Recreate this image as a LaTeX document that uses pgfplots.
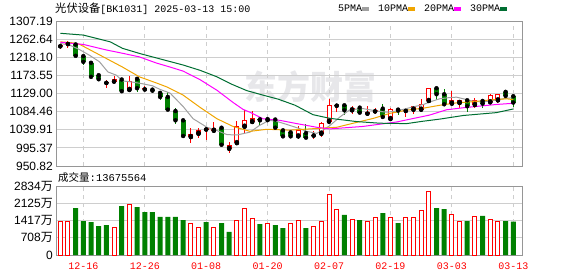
\documentclass[border=0pt]{standalone}
\usepackage{pgfplots}
\pgfplotsset{compat=1.18}
\usepackage{pgfplotstable}
\usepackage{fontspec}
\setmainfont{Liberation Sans}
\newfontfamily\cjk{Noto Sans CJK SC}
\newfontfamily\mono{Liberation Mono}
\definecolor{kred}{RGB}{255,0,0}
\definecolor{kgreen}{RGB}{0,128,0}
\definecolor{ma5}{RGB}{160,160,160}
\definecolor{ma10}{RGB}{240,165,0}
\definecolor{ma20}{RGB}{255,0,255}
\definecolor{ma30}{RGB}{0,110,50}
\definecolor{gridc}{RGB}{206,206,206}
\definecolor{framec}{RGB}{150,150,150}
\definecolor{wmark}{RGB}{231,231,234}

\pgfplotstableread{
i o h l c
0 1245 1254 1238 1247.5
1 1250.5 1257 1239.8 1253.8
6 1155 1161.7 1142.8 1157.5
7 1158.4 1171.6 1158 1164
9 1137.9 1171.6 1137 1160.9
11 1139 1147 1135 1141.5
17 1022 1043.4 1007.2 1030.2
18 1030.2 1043.4 1020.4 1040
19 1040.5 1046.6 1015.5 1043
20 1037.6 1059.8 1037 1044.9
22 993.2 1008.8 982.6 1001.4
23 1007.2 1061.4 1003 1048.3
24 1047.5 1087.8 1030.2 1063.1
25 1059 1086 1055 1069.6
31 1023.7 1048.3 1017 1040
33 1025.6 1036 1017 1028.2
34 1030.2 1059 1022 1056.5
35 1059.8 1114.8 1059 1101.7
36 1099 1101.7 1083.3 1101.5
38 1087.8 1099.3 1079.5 1094.3
40 1079.5 1097.6 1077.9 1084.4
41 1085 1094.3 1077.9 1087.5
43 1066.4 1094.3 1064.7 1091.9
45 1086.1 1089.4 1071.3 1089.4
46 1089.4 1097.6 1079.5 1097.6
47 1089.4 1114.8 1087.8 1104.2
48 1110.7 1143.6 1110.7 1143.6
51 1104.2 1135.4 1100.1 1112.3
52 1105.8 1114 1094.3 1112.3
54 1100.9 1118.9 1094.3 1114
56 1107.5 1128 1107.5 1124.7
57 1112.3 1128 1106 1128
}\upc

\pgfplotstableread{
i o h l c
2 1249.6 1252 1221 1221.7
3 1220.9 1222.5 1198.7 1206.9
4 1204.5 1206.1 1167.5 1169.9
5 1174 1178 1159 1164
8 1163.4 1165.8 1133 1134.6
10 1165 1168 1133 1142
12 1138.5 1142.8 1130.5 1136
13 1130.5 1131 1114 1120.6
14 1120.6 1132 1087.8 1089.4
15 1086.1 1094.3 1053.2 1063.1
16 1063.1 1064.7 1022 1024.5
21 1044.9 1048.3 1001.4 1003
26 1065.5 1069.6 1050 1063
27 1066 1071 1059 1063.5
28 1065 1066.6 1038.5 1045
29 1038.5 1040 1020.4 1023.7
30 1033.5 1035 1022 1023.7
32 1031.9 1053.2 1018 1020.4
37 1100.1 1101.7 1075.8 1087.8
39 1094.3 1097.6 1081 1082
42 1091.9 1104.2 1066.4 1071.3
44 1089.4 1089.4 1076.2 1087
49 1142 1142 1112.3 1127.2
50 1127.2 1139.5 1100.1 1102.5
53 1112.3 1112.3 1083.6 1097.6
55 1110.7 1116.5 1094.3 1104.2
58 1133 1136.2 1123.1 1123.1
59 1122.3 1124 1096 1106.7
}\downc

\pgfplotstableread{
i v
0 1396
1 1396
7 1136
9 2094
17 1300
18 1136
20 1136
23 1424
24 1917
25 1506
27 1300
30 1314
31 1424
33 1177
34 1383
35 2492
36 1875
38 1465
40 1383
41 1547
43 1547
45 1547
46 1547
47 1834
48 2615
51 1684
52 1383
54 1588
56 1465
57 1383
}\volup

\pgfplotstableread{
i v
2 1930
3 1396
4 1355
5 1191
6 1232
8 2012
10 1971
11 1766
12 1766
13 1561
14 1561
15 1561
16 1437
19 1355
21 1314
22 945
26 1273
28 1232
29 1109
32 1109
37 1643
39 1437
42 1725
44 1314
49 1930
50 1889
53 1396
55 1602
58 1396
59 1368
}\voldown

\pgfplotsset{
  kbase/.style={
    scale only axis, width=466.5pt, xmin=-0.56, xmax=60.2,
    xtick={3,11,19,27,35,43,51,59},
    major tick length=0pt,
    axis line style={draw=framec, line width=1pt},
    xmajorgrids, ymajorgrids,
    x grid style={draw=gridc, line width=1pt, dash pattern=on 4pt off 4pt},
    y grid style={draw=gridc, line width=1pt},
    yticklabel style={anchor=east, inner sep=0pt, xshift=-3pt, font=\fontsize{12}{12}\selectfont},
  },
}

\begin{document}
\begin{tikzpicture}[x=1pt,y=1pt]
\path[use as bounding box] (0,0) rectangle (578,276);
\node[text=wmark, font=\fontsize{33}{33}\cjk\bfseries, inner sep=0pt] at (310,189) {东方财富};
\node[anchor=base west, inner sep=0pt] at (55,263.3) {\fontsize{11.3}{12}\cjk 光伏设备\fontsize{10}{12}\mono [BK1031] 2025-03-13 15:00};
\node[anchor=base west, inner sep=0pt] at (58,95) {\fontsize{10.5}{12}\cjk 成交量\fontsize{10.5}{12}\mono :13675564};

\begin{axis}[kbase, at={(56pt,110pt)}, anchor=south west, height=145pt,
  ymin=950.82, ymax=1307.19,
  ytick={950.82,995.37,1039.91,1084.46,1129.00,1173.55,1218.10,1262.64,1307.19},
  yticklabels={950.82,995.37,1039.91,1084.46,1129.00,1173.55,1218.10,1262.64,1307.19},
  xticklabels={},
  legend columns=4,
  legend style={draw=none, fill=none, inner sep=0pt, at={(rel axis cs:0.6045,1.083)}, anchor=west,
    legend plot pos=right, nodes={inner sep=0pt, font=\fontsize{10}{10}\mono},
    /tikz/every even column/.append style={column sep=9pt},
    /tikz/every odd column/.append style={column sep=0pt}},
  legend image code/.code={\fill (1.5pt,-1.7pt) rectangle (7.5pt,1.7pt);},
]
% wicks
\addplot[forget plot, only marks, mark=none, error bars/.cd, y dir=both, y explicit, error mark=none,
  error bar style={draw=kred, line width=1pt}]
  table[x=i, y=o, y error plus expr=\thisrow{h}-\thisrow{o}, y error minus expr=\thisrow{o}-\thisrow{l}] {\upc};
\addplot[forget plot, only marks, mark=none, error bars/.cd, y dir=both, y explicit, error mark=none,
  error bar style={draw=kgreen, line width=1pt}]
  table[x=i, y=o, y error plus expr=\thisrow{h}-\thisrow{o}, y error minus expr=\thisrow{o}-\thisrow{l}] {\downc};
% bodies
\addplot[forget plot, only marks, mark=none, error bars/.cd, y dir=plus, y explicit, error mark=none,
  error bar style={draw=kred, line width=5pt}]
  table[x=i, y=o, y error plus expr=\thisrow{c}-\thisrow{o}] {\upc};
\addplot[forget plot, only marks, mark=none, restrict expr to domain={\thisrow{c}-\thisrow{o}}{6:1000},
  error bars/.cd, y dir=plus, y explicit, error mark=none,
  error bar style={draw=white, line width=3pt}]
  table[x=i, y expr=\thisrow{o}+2.46, y error plus expr=\thisrow{c}-\thisrow{o}-4.92] {\upc};
\addplot[forget plot, only marks, mark=none, error bars/.cd, y dir=plus, y explicit, error mark=none,
  error bar style={draw=kgreen, line width=5pt}]
  table[x=i, y=c, y error plus expr=\thisrow{o}-\thisrow{c}] {\downc};
% moving averages
\addplot[color=ma5, line width=1pt] coordinates {(0,1252) (1.2,1248) (2.5,1237) (3.8,1223) (5.1,1207) (6.2,1182) (7.3,1174) (8.1,1160) (9.4,1157) (10.7,1153) (12,1148) (13,1139) (14.3,1130) (16,1097) (17.3,1067) (19.1,1046) (20.4,1038) (21.7,1028) (23,1027) (24.7,1034) (25.9,1050) (27.2,1063) (28.1,1061) (29.5,1053) (30.8,1045) (32.1,1036) (33.4,1031) (34.3,1040) (35.1,1050) (36.4,1071) (37.7,1089) (39.4,1092) (41.2,1086) (42.5,1083) (43.8,1086) (45.5,1094) (47.3,1102) (48.1,1108) (49.4,1116) (50.7,1119) (51.6,1120) (52.5,1116) (53.8,1110) (55,1108) (56.4,1112) (57.7,1116) (59,1119)};
\addlegendentry{5PMA}
\addplot[color=ma10, line width=1pt] coordinates {(0,1256) (1.6,1253.6) (2.5,1250) (3.8,1237) (6,1215) (8.1,1194) (10.3,1170) (12.5,1155) (13.9,1145) (16,1125) (18.2,1095) (20.4,1067) (22.5,1048) (24.7,1036) (26.9,1041) (29.9,1039) (33.4,1043) (36,1046) (38.6,1058) (40.8,1068) (42.9,1080) (45.1,1088) (47.3,1093) (49.4,1100) (51.6,1106) (53.8,1109) (55.9,1113) (58.1,1116) (59,1114)};
\addlegendentry{10PMA}
\addplot[color=ma20, line width=1pt] coordinates {(0,1255) (3,1249.6) (6,1236) (8.2,1227.5) (10.3,1219) (12.5,1204) (14.3,1194) (16,1184) (18.2,1163) (20.4,1137) (22.5,1107) (23.8,1090) (24.7,1083) (26.4,1067) (28.6,1063) (30.8,1055) (33.4,1046) (35.1,1042) (39.4,1048) (43.8,1059) (48.1,1076) (50.3,1089) (52.5,1094) (54.6,1098) (56.8,1102) (59,1105)};
\addlegendentry{20PMA}
\addplot[color=ma30, line width=1pt] coordinates {(0,1277) (3,1272.6) (6.5,1256) (8.1,1240) (10.4,1227) (13.4,1212) (16,1199) (18.2,1186) (20.4,1170) (22.3,1152) (24.3,1136) (26.4,1125) (28.4,1115) (30.6,1100) (32.9,1077) (35.1,1068) (36.4,1065) (38.6,1060) (41.6,1056) (45.1,1055) (47.3,1061) (49.4,1066) (52.5,1075) (56.8,1082) (59,1091)};
\addlegendentry{30PMA}
\end{axis}

\begin{axis}[kbase, at={(56pt,21pt)}, anchor=south west, height=69pt,
  ymin=0, ymax=2834,
  ytick={0,708.5,1417,2125.5,2834},
  yticklabels={0,708{\cjk 万},1417{\cjk 万},2125{\cjk 万},2834{\cjk 万}},
  xticklabels={12-16,12-26,01-08,01-20,02-07,02-19,03-03,03-13},
  xticklabel style={text=kred, font=\fontsize{10}{10}\mono, anchor=center, inner sep=0pt, yshift=-11.7pt},
]
\addplot[ybar, bar width=4pt, bar shift=0pt, draw=kred, fill=white, line width=1pt] table[x=i, y=v] {\volup};
\addplot[ybar, bar width=5pt, bar shift=0pt, draw=none, fill=kgreen] table[x=i, y=v] {\voldown};
\end{axis}
\end{tikzpicture}
\end{document}
